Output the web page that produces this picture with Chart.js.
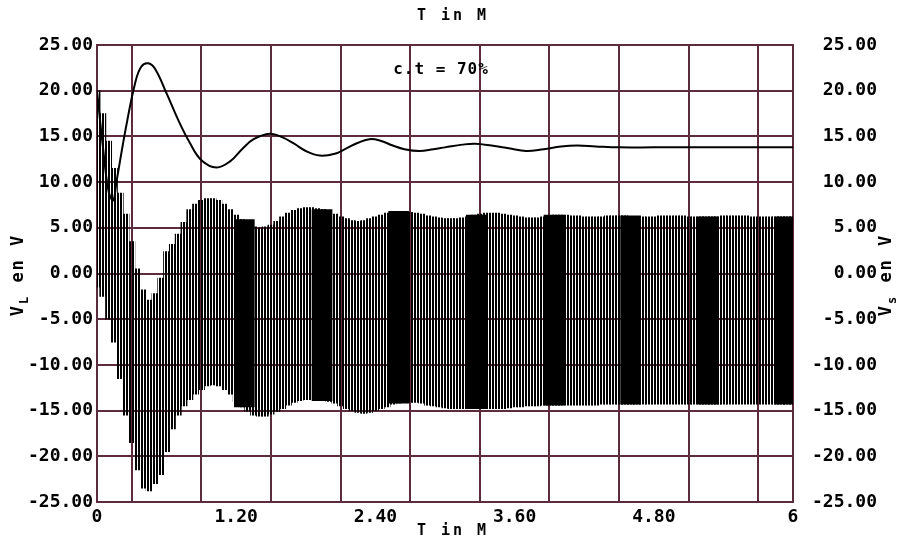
<!DOCTYPE html>
<html>
<head>
<meta charset="utf-8">
<script src="https://cdn.jsdelivr.net/npm/chart.js@4/dist/chart.umd.min.js"></script>
<style>
  body { margin: 0; background: #fff; }
  #wrap { width: 901px; height: 541px; }
</style>
</head>
<body>
<div id="wrap"><canvas id="grafico"></canvas></div>
<script>
// tiempo (s) de muestreo de la envolvente de VL
const t = [0,0.05,0.1,0.15,0.2,0.25,0.3,0.35,0.4,0.45,
  0.5,0.55,0.6,0.65,0.7,0.75,0.8,0.85,0.9,0.95,
  1,1.05,1.1,1.15,1.2,1.25,1.3,1.35,1.4,1.45,
  1.5,1.55,1.6,1.65,1.7,1.75,1.8,1.85,1.9,1.95,
  2,2.05,2.1,2.15,2.2,2.25,2.3,2.35,2.4,2.45,
  2.5,2.55,2.6,2.65,2.7,2.75,2.8,2.85,2.9,2.95,
  3,3.05,3.1,3.15,3.2,3.25,3.3,3.35,3.4,3.45,
  3.5,3.55,3.6,3.65,3.7,3.75,3.8,3.85,3.9,3.95,
  4,4.05,4.1,4.15,4.2,4.25,4.3,4.35,4.4,4.45,
  4.5,4.55,4.6,4.65,4.7,4.75,4.8,4.85,4.9,4.95,
  5,5.05,5.1,5.15,5.2,5.25,5.3,5.35,5.4,5.45,
  5.5,5.55,5.6,5.65,5.7,5.75,5.8,5.85,5.9,5.95,
  6];

// VL: envolvente superior e inferior
const vlHigh = [20,17.5,14.5,11.5,8.8,6.5,3.5,0.5,-1.8,-2.9,
  -2.2,-0.5,2.4,3.2,4.3,5.6,7.0,7.6,8.0,8.2,
  8.2,8.0,7.6,7.0,6.4,5.9,5.4,5.1,5.0,5.1,
  5.3,5.7,6.2,6.6,6.9,7.1,7.2,7.2,7.1,7.0,
  6.8,6.5,6.2,6.0,5.8,5.7,5.8,6.0,6.2,6.4,
  6.6,6.7,6.8,6.8,6.7,6.6,6.5,6.3,6.2,6.1,
  6.0,6.0,6.0,6.1,6.2,6.4,6.5,6.6,6.6,6.6,
  6.5,6.4,6.3,6.2,6.1,6.1,6.1,6.2,6.3,6.4,
  6.4,6.4,6.3,6.3,6.2,6.2,6.2,6.2,6.3,6.3,
  6.3,6.3,6.2,6.2,6.2,6.2,6.2,6.3,6.3,6.3,
  6.3,6.3,6.2,6.2,6.2,6.2,6.2,6.2,6.3,6.3,
  6.3,6.3,6.3,6.2,6.2,6.2,6.2,6.2,6.2,6.2,
  6.2];
const vlLow = [-1.5,-2.5,-5,-7.5,-11.5,-15.5,-18.5,-21.5,-23.5,-23.8,
  -23,-22,-19.5,-17,-15.5,-14.5,-13.8,-13.2,-12.7,-12.3,
  -12.2,-12.3,-12.7,-13.2,-14.0,-14.6,-15.1,-15.5,-15.6,-15.6,
  -15.4,-15.1,-14.8,-14.4,-14.1,-13.9,-13.8,-13.8,-13.8,-13.9,
  -14.0,-14.2,-14.5,-14.8,-15.0,-15.2,-15.3,-15.2,-15.0,-14.8,
  -14.6,-14.3,-14.2,-14.1,-14.1,-14.1,-14.2,-14.4,-14.5,-14.6,
  -14.7,-14.8,-14.8,-14.8,-14.8,-14.8,-14.8,-14.8,-14.8,-14.8,
  -14.8,-14.7,-14.6,-14.6,-14.5,-14.5,-14.5,-14.4,-14.4,-14.4,
  -14.4,-14.4,-14.4,-14.4,-14.4,-14.4,-14.4,-14.3,-14.3,-14.3,
  -14.3,-14.3,-14.3,-14.3,-14.3,-14.3,-14.3,-14.3,-14.3,-14.3,
  -14.3,-14.3,-14.3,-14.3,-14.3,-14.3,-14.3,-14.3,-14.3,-14.3,
  -14.3,-14.3,-14.3,-14.3,-14.3,-14.3,-14.3,-14.3,-14.3,-14.3,
  -14.3];

// bandas negras densas
const bandT = [1.27,1.94,2.60,3.27,3.94,4.60,5.27,5.93];
const bandHigh = [5.9,7.0,6.8,6.4,6.4,6.3,6.2,6.2];
const bandLow = [-14.6,-13.9,-14.2,-14.8,-14.4,-14.3,-14.3,-14.3];

// Vs
const vsT = [0,0.05,0.1,0.14,0.17,0.25,0.33,0.38,0.44,0.5,0.6,0.7,0.8,0.9,1.03,1.15,1.25,1.35,1.49,1.6,
  1.7,1.8,1.92,2.05,2.15,2.25,2.35,2.45,2.55,2.65,2.78,2.9,3.0,3.15,3.26,3.4,3.55,3.7,3.85,4.0,
  4.14,4.3,4.5,4.8,5.1,5.4,5.7,6.0];
const vsV = [20,14,9,8,10.2,16,20.9,22.6,23.0,22.4,19.7,16.8,14.3,12.4,11.6,12.3,13.6,14.7,15.3,14.9,
  14.2,13.4,12.9,13.1,13.7,14.3,14.7,14.5,14.0,13.6,13.4,13.6,13.8,14.1,14.2,14.0,13.7,13.4,13.6,13.9,
  14.0,13.9,13.8,13.8,13.8,13.8,13.8,13.8];

const yTicks = ['-25.00','-20.00','-15.00','-10.00','-5.00','0.00','5.00','10.00','15.00','20.00','25.00'];
const xTicks = {0: '0', 1.2: '1.20', 2.4: '2.40', 3.6: '3.60', 4.8: '4.80', 6: '6'};

const granate = 'rgb(92,44,62)';
const fuente = { family: 'DejaVu Sans Mono', size: 18, weight: 'bold' };

function xLabel(v) {
  const k = Math.round(v * 10) / 10;
  return xTicks[k] !== undefined ? xTicks[k] : '';
}
function yLabel(v) {
  return yTicks[Math.round(v / 5) + 5];
}

// rayado vertical fino (2px negro, 1px vacio)
const rc = document.createElement('canvas');
rc.width = 3; rc.height = 1;
const rctx = rc.getContext('2d');
rctx.fillStyle = '#000';
rctx.fillRect(0, 0, 2, 1);
const rayado = rctx.createPattern(rc, 'repeat');

// textos sueltos: titulos y nota c.t
const textos = {
  id: 'textos',
  afterDraw(chart) {
    const ctx = chart.ctx;
    ctx.save();
    ctx.fillStyle = '#000';
    ctx.textBaseline = 'middle';
    ctx.textAlign = 'center';
    ctx.font = 'bold 15px "DejaVu Sans Mono"';
    ctx.letterSpacing = '3px';
    ctx.fillText('T in M', 453, 16);
    ctx.fillText('T in M', 453, 531);
    ctx.letterSpacing = '1px';
    ctx.font = 'bold 16px "DejaVu Sans Mono"';
    ctx.fillText('c.t = 70%', 441, 70);
    ctx.letterSpacing = '0px';

    function tituloY(x, sub) {
      ctx.save();
      ctx.translate(x, 275);
      ctx.rotate(-Math.PI / 2);
      ctx.textAlign = 'left';
      ctx.letterSpacing = '2px';
      ctx.font = 'bold 17px "DejaVu Sans Mono"';
      const w1 = ctx.measureText('V').width;
      ctx.font = 'bold 12px "DejaVu Sans Mono"';
      const w2 = ctx.measureText(sub).width;
      ctx.font = 'bold 17px "DejaVu Sans Mono"';
      const w3 = ctx.measureText(' en V').width;
      let x0 = -(w1 + w2 + w3) / 2;
      ctx.fillText('V', x0, 0);
      ctx.font = 'bold 12px "DejaVu Sans Mono"';
      ctx.fillText(sub, x0 + w1, 6);
      ctx.font = 'bold 17px "DejaVu Sans Mono"';
      ctx.fillText(' en V', x0 + w1 + w2, 0);
      ctx.restore();
    }
    tituloY(19, 'L');
    tituloY(887, 's');
    ctx.restore();
  }
};

new Chart(document.getElementById('grafico').getContext('2d'), {
  type: 'bar',
  data: {
    datasets: [
      {
        type: 'line',
        label: 'Vs',
        data: vsT.map((x, i) => ({ x: x, y: vsV[i] })),
        borderColor: '#000',
        borderWidth: 2,
        pointRadius: 0,
        tension: 0.4,
        order: 0
      },
      {
        label: 'VL',
        data: t.map((x, i) => ({ x: x, y: [vlLow[i], vlHigh[i]] })),
        backgroundColor: rayado,
        barThickness: 6.2,
        grouped: false,
        order: 2
      },
      {
        label: 'bandas',
        data: bandT.map((x, i) => ({ x: x, y: [bandLow[i], bandHigh[i]] })),
        backgroundColor: '#000',
        barThickness: 20,
        grouped: false,
        order: 1
      }
    ]
  },
  options: {
    responsive: true,
    maintainAspectRatio: false,
    animation: false,
    layout: { padding: { top: 45, right: 24, left: 0, bottom: 0 } },
    plugins: { legend: { display: false }, tooltip: { enabled: false } },
    scales: {
      x: {
        type: 'linear',
        min: 0,
        max: 6,
        offset: false,
        grid: { color: granate, lineWidth: 2, drawTicks: false },
        border: { color: granate, width: 2 },
        afterFit: function(scale) { scale.height = 39; },
        ticks: {
          stepSize: 0.6,
          autoSkip: false,
          maxRotation: 0,
          padding: 5,
          color: '#000',
          font: fuente,
          callback: xLabel
        }
      },
      y: {
        position: 'left',
        min: -25,
        max: 25,
        grid: { color: granate, lineWidth: 2, drawTicks: false },
        border: { color: granate, width: 2 },
        afterFit: function(scale) { scale.width = 97; },
        ticks: { stepSize: 5, padding: 4, color: '#000', font: fuente, callback: yLabel }
      },
      y2: {
        position: 'right',
        min: -25,
        max: 25,
        grid: { display: false, drawTicks: false },
        border: { color: granate, width: 2 },
        afterFit: function(scale) { scale.width = 84; },
        ticks: { stepSize: 5, padding: 4, crossAlign: 'far', color: '#000', font: fuente, callback: yLabel }
      }
    }
  },
  plugins: [textos]
});
</script>
</body>
</html>
